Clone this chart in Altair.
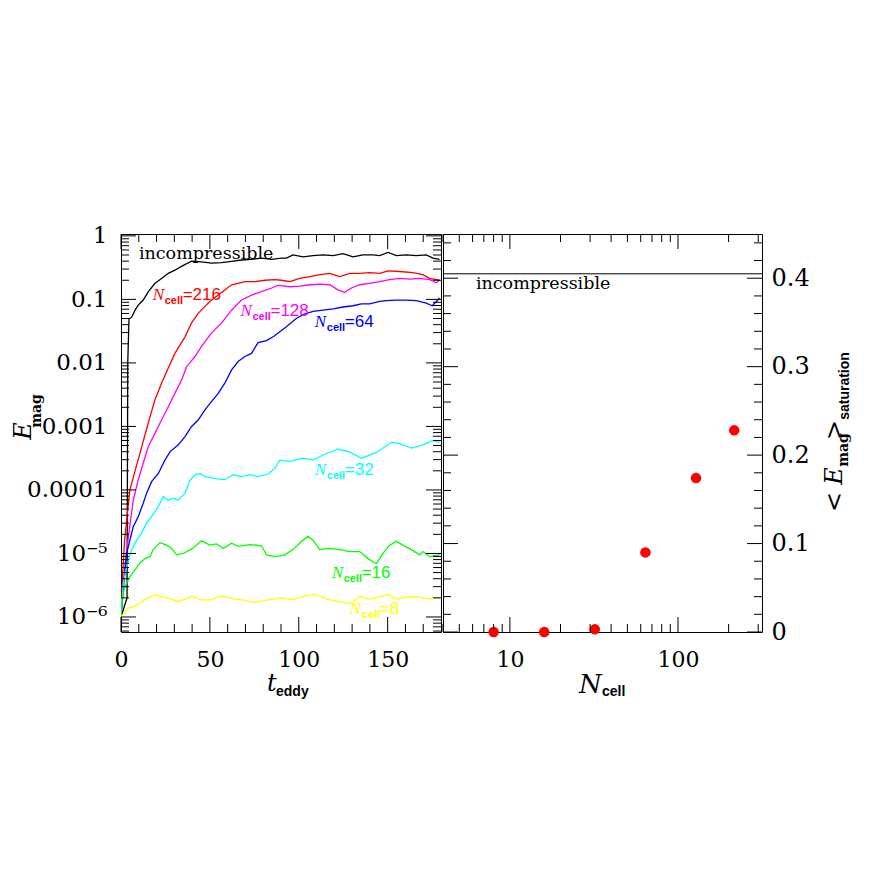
import altair as alt
import pandas as pd

# ---------------- data ----------------
series_names = ["incompressible", "216", "128", "64", "32", "16", "8"]
series_colors = ["#000000", "#ff0000", "#ff00ff", "#0000ff", "#00ffff", "#00ff00", "#ffff00"]

t_inc = [0, 3.4, 3.8, 4.5, 6, 7.9, 9.7, 12.5, 15.4, 19, 22.8, 26.6, 30.3, 34, 39.7, 45.3, 50.9, 56.6, 62.2, 67.8,
         73.4, 79, 84.7, 90.3, 93, 96.8, 102.4, 108, 113.7, 119.3, 124.9, 130.5, 136.1, 141.7, 145.5, 150.2, 154.9,
         160.5, 166.1, 171.7, 175.5, 179.2]
e_inc = [1e-6, 2e-6, 0.01, 0.049, 0.0525, 0.0676, 0.0813, 0.0977, 0.132, 0.178, 0.214, 0.257, 0.288, 0.331, 0.398,
         0.389, 0.372, 0.380, 0.398, 0.417, 0.427, 0.447, 0.427, 0.447, 0.447, 0.501, 0.468, 0.490, 0.501, 0.490,
         0.525, 0.468, 0.501, 0.501, 0.490, 0.550, 0.490, 0.501, 0.490, 0.501, 0.447, 0.427]

t_216 = [0, 1, 2, 3.5, 5, 7.9, 10.7, 13.5, 16.3, 19.1, 22.8, 26.6, 30.3, 36, 39.7, 43.4, 47.2, 50.9, 54.7, 58.4,
         62.2, 65.9, 69.7, 75.3, 80.9, 86.5, 90.3, 94.9, 100.6, 106.2, 111.8, 117.4, 123, 128.7, 134.3, 139.9,
         145.5, 150.2, 156.7, 164.2, 169.8, 173.6, 179.2]
e_216 = [1e-6, 5.0e-6, 1.6e-5, 4.0e-5, 1.0e-4, 2.0e-4, 3.8e-4, 7.4e-4, 1.41e-3, 2.63e-3, 4.79e-3, 8.32e-3, 0.0141,
         0.0257, 0.0427, 0.0603, 0.0776, 0.0977, 0.117, 0.141, 0.170, 0.178, 0.191, 0.191, 0.200, 0.204, 0.200,
         0.191, 0.214, 0.229, 0.245, 0.257, 0.229, 0.257, 0.257, 0.263, 0.257, 0.282, 0.275, 0.263, 0.245, 0.214,
         0.200]

t_128 = [0, 1.5, 3, 5, 6.9, 9.7, 12.5, 15.3, 19.1, 22.8, 26.6, 30.3, 34.1, 36.9, 41.6, 45.3, 50.9, 56.6, 62.2, 67.8,
         73.4, 79, 84.7, 88.4, 94.9, 100.6, 106.2, 111.8, 117.4, 122, 125.8, 129.6, 134.3, 139.9, 145.5, 151.1,
         156.7, 162.4, 168, 173.6, 177.3, 179.2]
e_128 = [1e-6, 4.0e-6, 1.0e-5, 2.8e-5, 6.9e-5, 1.45e-4, 2.63e-4, 4.79e-4, 7.76e-4, 1.26e-3, 2.04e-3, 3.31e-3,
         5.37e-3, 8.71e-3, 0.0126, 0.0182, 0.0295, 0.0427, 0.0676, 0.0977, 0.117, 0.132, 0.151, 0.166, 0.158,
         0.162, 0.170, 0.174, 0.170, 0.141, 0.129, 0.151, 0.170, 0.178, 0.191, 0.204, 0.214, 0.209, 0.214, 0.204,
         0.182, 0.200]

t_64 = [0, 1.5, 3.2, 5, 6.9, 9.7, 12.5, 14.4, 17.2, 21, 24.7, 27.5, 32.2, 36, 39.7, 43.4, 47.2, 50.9, 54.7, 58.4,
        62.2, 65.9, 69.7, 73.4, 77.1, 81.9, 86, 89.3, 93, 98.6, 102.4, 108, 113.7, 119.3, 124.9, 130.5, 135.2,
        139.9, 145.5, 149.3, 154.9, 160.5, 166.1, 171.7, 175.1, 179.2]
e_64 = [1e-6, 3.2e-6, 1.0e-5, 1.62e-5, 2.63e-5, 3.8e-5, 6.17e-5, 8.9e-5, 1.35e-4, 1.82e-4, 2.95e-4, 3.98e-4,
        5.13e-4, 6.92e-4, 1.0e-3, 1.26e-3, 1.82e-3, 2.45e-3, 3.31e-3, 4.79e-3, 7.76e-3, 0.0105, 0.0126, 0.0141,
        0.0209, 0.0224, 0.0263, 0.0309, 0.0372, 0.0501, 0.0575, 0.0646, 0.0676, 0.0708, 0.0759, 0.0794, 0.0851,
        0.0851, 0.0933, 0.0955, 0.0977, 0.0977, 0.0955, 0.0871, 0.0794, 0.105]

t_32 = [0, 1.3, 3.2, 6, 8.8, 11.6, 14.4, 17.2, 21, 23.8, 26.6, 29.4, 32.2, 36, 38.8, 41.6, 44.4, 47.2, 52.8, 58.4,
        63.1, 67.8, 72.5, 77.1, 82.8, 86.5, 89.3, 94.9, 102.4, 108, 113.7, 122, 128.7, 135.2, 143.7, 152.1, 156.7,
        163.3, 169.8, 175.5, 179.2]
e_32 = [1e-6, 3.4e-6, 6.2e-6, 1.15e-5, 1.62e-5, 2.09e-5, 3.02e-5, 3.8e-5, 5.5e-5, 7.9e-5, 6.9e-5, 7.4e-5, 6.9e-5,
        8.9e-5, 1.41e-4, 1.74e-4, 1.82e-4, 1.62e-4, 1.51e-4, 1.45e-4, 1.74e-4, 1.62e-4, 1.74e-4, 1.62e-4, 1.78e-4,
        2.19e-4, 2.95e-4, 2.82e-4, 3.16e-4, 2.95e-4, 3.55e-4, 4.37e-4, 3.98e-4, 3.16e-4, 3.89e-4, 5.62e-4,
        5.37e-4, 4.57e-4, 5.13e-4, 6.03e-4, 5.62e-4]

t_16 = [0, 0.4, 2.2, 5, 7.9, 10.7, 13.5, 16.3, 18.1, 21.9, 25.7, 28.5, 31.3, 35, 39.7, 45.3, 50, 53.8, 57.5, 62.2,
        65.9, 72.5, 79, 81.9, 86.5, 92.1, 96.8, 101.5, 105.2, 108, 111.8, 117.4, 123, 128.7, 134.3, 138.9, 143.7,
        147.4, 151.1, 154.9, 158.6, 163.3, 168, 169.8, 173.6, 179.2]
e_16 = [1e-6, 1.86e-6, 3.0e-6, 4.27e-6, 5.5e-6, 7.1e-6, 8.3e-6, 8.9e-6, 1.15e-5, 1.48e-5, 1.35e-5, 1.2e-5, 9.5e-6,
        1.0e-5, 1.17e-5, 1.58e-5, 1.35e-5, 1.41e-5, 1.2e-5, 1.45e-5, 1.29e-5, 1.38e-5, 1.32e-5, 9.5e-6, 8.9e-6,
        9.5e-6, 1.15e-5, 1.55e-5, 1.86e-5, 1.62e-5, 1.15e-5, 1.2e-5, 1.15e-5, 1.07e-5, 1.07e-5, 8.3e-6, 6.9e-6,
        1.0e-5, 1.35e-5, 1.55e-5, 1.35e-5, 1.15e-5, 9.5e-6, 1.07e-5, 8.9e-6, 9.5e-6]

t_8 = [0, 0.7, 4.1, 7.9, 11.6, 14.4, 19.1, 22.8, 27.5, 32.2, 39.7, 45.3, 50.9, 56.6, 62.2, 67.8, 75.3, 82.8, 90.3,
       96.8, 102.4, 109, 115.6, 122, 128.7, 134.3, 139.9, 145.5, 150.2, 154.9, 160.5, 166.1, 171.7, 179.2]
e_8 = [1e-6, 1.05e-6, 1.38e-6, 1.48e-6, 1.74e-6, 1.95e-6, 2.24e-6, 2.09e-6, 1.95e-6, 1.74e-6, 2.09e-6, 1.86e-6,
       1.86e-6, 2.14e-6, 1.95e-6, 1.86e-6, 1.70e-6, 1.86e-6, 2.0e-6, 1.86e-6, 2.09e-6, 2.29e-6, 1.91e-6, 1.74e-6,
       1.62e-6, 2.09e-6, 1.91e-6, 2.09e-6, 2.24e-6, 1.91e-6, 2.04e-6, 2.09e-6, 1.95e-6, 2.04e-6]

# curve labels (anchor = left edge of "N", vertical middle)
label_series = ["216", "128", "64", "32", "16", "8"]
label_t = [17.8, 67.2, 109, 109, 118.5, 128.7]
label_e = [0.118, 0.0667, 0.0438, 2.07e-4, 4.9e-6, 1.32e-6]

# right panel: saturation level vs resolution
n_cell = [8, 16, 32, 64, 128, 216]
e_sat = [0.0, 0.0, 0.003, 0.090, 0.174, 0.228]
e_sat_incompressible = [0.405]

# ---------------- geometry ----------------
LW, RW, H = 320, 319, 398
MAJ, MIN = 15, 8
SERIF = "DejaVu Serif"
SANS = "Liberation Sans"

lx = alt.Scale(domain=[0, 180], nice=False, zero=False)
ly = alt.Scale(type="log", domain=[5.8e-7, 1.07], nice=False)
rx = alt.Scale(type="log", domain=[4, 316], nice=False)
ry = alt.Scale(domain=[0, 0.45], nice=False, zero=False)
cscale = alt.Scale(domain=series_names, range=series_colors)

frames = []
for name, tt, ee in [("incompressible", t_inc, e_inc), ("216", t_216, e_216), ("128", t_128, e_128),
                     ("64", t_64, e_64), ("32", t_32, e_32), ("16", t_16, e_16), ("8", t_8, e_8)]:
    frames.append(pd.DataFrame({"series": name, "t": tt, "E": ee}))
lines_df = pd.concat(frames, ignore_index=True)

lab_df = pd.DataFrame({"series": label_series, "t": label_t, "E": label_e,
                       "val": ["=" + s for s in label_series]})
sat_df = pd.DataFrame({"N": n_cell, "S": e_sat})
inc_df = pd.DataFrame({"S": e_sat_incompressible})


def txt(s, x, y, size, font, style="normal", weight="normal", angle=0, align="left", baseline="middle"):
    return alt.Chart(pd.DataFrame({"s": [s]})).mark_text(
        align=align, baseline=baseline, font=font, fontSize=size, fontStyle=style,
        fontWeight=weight, angle=angle, color="black"
    ).encode(text="s:N", x=alt.value(x), y=alt.value(y))


def side_ticks(vals, scale, ch, w, h, length):
    """inward ticks on both opposite sides for a channel"""
    df = pd.DataFrame({"v": vals})
    base = alt.Chart(df).mark_rule(color="black", strokeWidth=1)
    out = []
    if ch == "y":
        enc = alt.Y("v:Q", scale=scale, axis=None)
        out.append(base.encode(y=enc, x=alt.value(0), x2=alt.value(length)))
        out.append(base.encode(y=enc, x=alt.value(w), x2=alt.value(w - length)))
    else:
        enc = alt.X("v:Q", scale=scale, axis=None)
        out.append(base.encode(x=enc, y=alt.value(h), y2=alt.value(h - length)))
        out.append(base.encode(x=enc, y=alt.value(0), y2=alt.value(length)))
    return out


# tick positions
ly_major = [1e-6, 1e-5, 1e-4, 1e-3, 1e-2, 1e-1, 1]
ly_minor = [k * 10.0 ** d for d in range(-7, 0) for k in range(2, 10) if 5.8e-7 <= k * 10.0 ** d <= 1.07]
lx_major = [0, 50, 100, 150]
lx_minor = [v for v in range(10, 180, 10) if v % 50 != 0]
rx_major = [10, 100]
rx_minor = [k * 10.0 ** d for d in range(0, 3) for k in range(2, 10) if 4 <= k * 10.0 ** d <= 316]
ry_major = [0, 0.1, 0.2, 0.3, 0.4]
ry_minor = [round(0.02 * i, 2) for i in range(1, 23) if (i % 5) != 0]

axis_common = dict(title=None, ticks=False, tickSize=0, domain=False, grid=False, labelFont=SERIF,
                   labelColor="black", labelOverlap=False, labelFlush=False)

ylab = ("datum.value > 0.5 ? '1' : datum.value > 0.05 ? '0.1' : datum.value > 0.005 ? '0.01' : "
        "datum.value > 0.0005 ? '0.001' : datum.value > 0.00005 ? '0.0001' : "
        "datum.value > 0.000005 ? '10\u207b\u2075' : '10\u207b\u2076'")

lines = alt.Chart(lines_df).mark_line(strokeWidth=1.3, clip=True).encode(
    x=alt.X("t:Q", scale=lx, axis=alt.Axis(values=lx_major, labelPadding=17, labelFontSize=22, **axis_common)),
    y=alt.Y("E:Q", scale=ly, axis=alt.Axis(values=ly_major, labelExpr=ylab, labelPadding=14, labelFontSize=23,
                                           **axis_common)),
    color=alt.Color("series:N", scale=cscale, legend=None),
)

lab_base = alt.Chart(lab_df).encode(
    x=alt.X("t:Q", scale=lx, axis=None),
    y=alt.Y("E:Q", scale=ly, axis=None),
    color=alt.Color("series:N", scale=cscale, legend=None),
)
lab_N = lab_base.mark_text(text="N", align="left", baseline="middle", font="Liberation Serif",
                           fontStyle="italic", fontSize=17)
lab_cell = lab_base.mark_text(text="cell", align="left", baseline="middle", font=SANS, fontWeight="bold",
                              fontSize=11, dx=12, dy=6)
lab_val = lab_base.mark_text(align="left", baseline="middle", font=SANS, fontSize=17, dx=30).encode(text="val:N")

inc_lab_left = alt.Chart(pd.DataFrame({"t": [10.1], "E": [0.52], "s": ["incompressible"]})).mark_text(
    align="left", baseline="middle", font=SERIF, fontSize=17.5, color="black"
).encode(x=alt.X("t:Q", scale=lx, axis=None), y=alt.Y("E:Q", scale=ly, axis=None), text="s:N")

left_layers = [lines]
left_layers += side_ticks(ly_major, ly, "y", LW, H, MAJ) + side_ticks(ly_minor, ly, "y", LW, H, MIN)
left_layers += side_ticks(lx_major, lx, "x", LW, H, MAJ) + side_ticks(lx_minor, lx, "x", LW, H, MIN)
left_layers += [lab_N, lab_cell, lab_val, inc_lab_left]
left_layers += [
    txt("t", 146, 450, 24, SERIF, style="italic"),
    txt("eddy", 155, 458, 14, SANS, weight="bold"),
    txt("E", -97, 197, 24, SERIF, style="italic", angle=270, align="center"),
    txt("mag", -84, 177, 14, SERIF, weight="bold", angle=270, align="center"),
]
left = alt.layer(*left_layers).resolve_axis(x="independent", y="independent").properties(width=LW, height=H)

# right panel
pts = alt.Chart(sat_df).mark_circle(size=110, color="#ff0000", opacity=1, clip=False).encode(
    x=alt.X("N:Q", scale=rx, axis=alt.Axis(values=rx_major, format="d", labelPadding=17, labelFontSize=22,
                                           **axis_common)),
    y=alt.Y("S:Q", scale=ry, axis=alt.Axis(orient="right", values=ry_major, labelPadding=9, labelFontSize=24,
                                           labelExpr="datum.value == 0 ? '0' : format(datum.value, '.1f')",
                                           **axis_common)),
)
inc_rule = alt.Chart(inc_df).mark_rule(color="black", strokeWidth=1).encode(
    y=alt.Y("S:Q", scale=ry, axis=None), x=alt.value(0), x2=alt.value(RW))
inc_lab_right = alt.Chart(pd.DataFrame({"N": [6.28], "S": [0.3935], "s": ["incompressible"]})).mark_text(
    align="left", baseline="middle", font=SERIF, fontSize=17.5, color="black"
).encode(x=alt.X("N:Q", scale=rx, axis=None), y=alt.Y("S:Q", scale=ry, axis=None), text="s:N")

right_layers = [pts, inc_rule, inc_lab_right]
right_layers += side_ticks(ry_major, ry, "y", RW, H, MAJ) + side_ticks(ry_minor, ry, "y", RW, H, MIN)
right_layers += side_ticks(rx_major, rx, "x", RW, H, MAJ) + side_ticks(rx_minor, rx, "x", RW, H, MIN)
right_layers += [
    txt("N", 136, 451, 26, SERIF, style="italic"),
    txt("cell", 159, 458, 14, SANS, weight="bold"),
    txt("<", 392, 268, 24, SERIF, angle=270, align="center"),
    txt("E", 392, 242, 24, SERIF, style="italic", angle=270, align="center"),
    txt("mag", 401, 216, 14, SERIF, weight="bold", angle=270, align="center"),
    txt(">", 392, 196, 24, SERIF, angle=270, align="center"),
    txt("saturation", 402, 152, 14, SANS, weight="bold", angle=270, align="center"),
]
right = alt.layer(*right_layers).resolve_axis(x="independent", y="independent").properties(width=RW, height=H)

chart = alt.hconcat(left, right, spacing=0).properties(
    padding={"top": 216, "left": 3, "right": 5, "bottom": 5}
).configure_view(stroke="black", strokeWidth=1)

chart.save("out.html", embed_options={"renderer": "svg", "actions": False})
